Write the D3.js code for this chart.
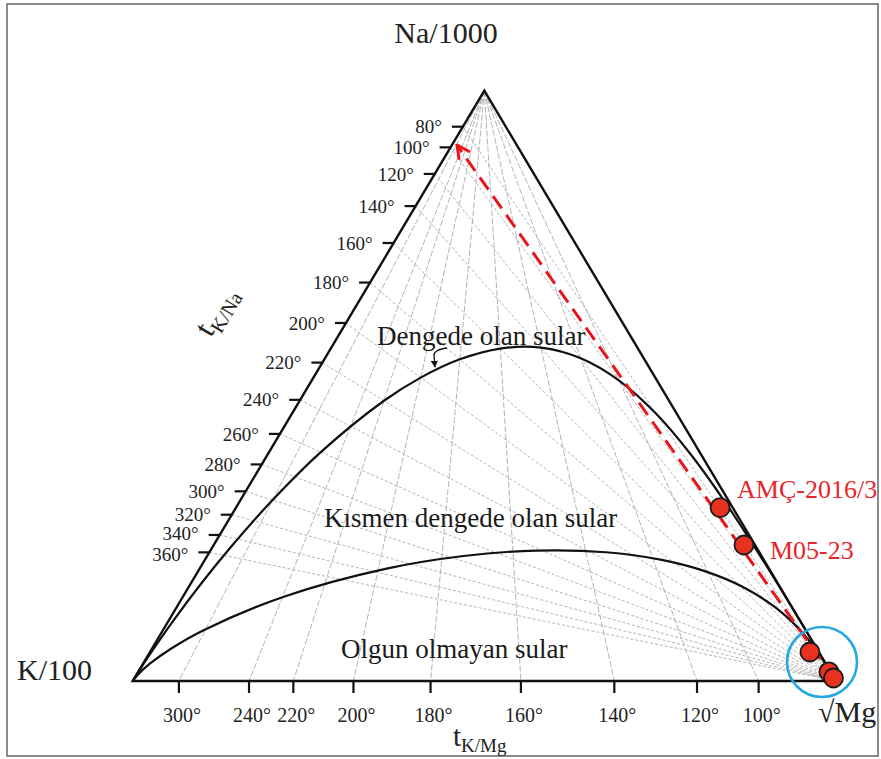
<!DOCTYPE html>
<html>
<head>
<meta charset="utf-8">
<script src="https://cdn.jsdelivr.net/npm/d3@7"></script>
<style>
  html, body { margin: 0; padding: 0; background: #fff; }
  svg { display: block; }
  text { font-family: "Liberation Serif", "Times New Roman", serif; }
</style>
</head>
<body>
<svg id="chart" width="881" height="759"></svg>
<script>
// ---------- DATA (ternary fractions: [Na/1000, K/100, sqrt(Mg)]) ----------
const leftTickLabels = [80, 100, 120, 140, 160, 180, 200, 220, 240, 260, 280, 300, 320, 340, 360];
const leftTickNa = [0.939, 0.904, 0.859, 0.8045, 0.742, 0.675, 0.6065, 0.5394, 0.4763, 0.4186, 0.3669, 0.3213, 0.2817, 0.2474, 0.2179];

const bottomTickLabels = [300, 240, 220, 200, 180, 160, 140, 120, 100];
const bottomTickMg = [0.0657, 0.1654, 0.2284, 0.3139, 0.4235, 0.552, 0.6848, 0.8024, 0.890];

// full equilibrium curve ("Dengede olan sular")
const fullEquilibrium = [
  [0, 1, 0],
  [0.0215, 0.9780, 0.0005], [0.0455, 0.9528, 0.0018], [0.0998, 0.8939, 0.0064],
  [0.1685, 0.8162, 0.0154], [0.2262, 0.7480, 0.0259], [0.3066, 0.6478, 0.0456],
  [0.3878, 0.5386, 0.0736], [0.4747, 0.4053, 0.1199], [0.5139, 0.3335, 0.1525],
  [0.5450, 0.2624, 0.1927], [0.5632, 0.1957, 0.2411], [0.5647, 0.1372, 0.2981],
  [0.5467, 0.0896, 0.3637], [0.5089, 0.0539, 0.4373], [0.4530, 0.0295, 0.5175],
  [0.3833, 0.0145, 0.6022], [0.3056, 0.0063, 0.6881], [0.2273, 0.0023, 0.7704],
  [0.1558, 0.0007, 0.8435], [0.0800, 0.0001, 0.9199], [0, 0, 1]
];

// immature water boundary
const immatureLine = [
  [0, 1, 0],
  [0.0099, 0.9884, 0.0017], [0.0289, 0.9616, 0.0095], [0.0551, 0.9177, 0.0273],
  [0.0857, 0.8570, 0.0573], [0.1428, 0.7138, 0.1435], [0.1904, 0.5439, 0.2658],
  [0.2118, 0.4236, 0.3646], [0.2209, 0.3156, 0.4635], [0.2181, 0.2181, 0.5639],
  [0.2055, 0.1468, 0.6477], [0.1857, 0.0928, 0.7215], [0.1597, 0.0532, 0.7871],
  [0.1273, 0.0255, 0.8473], [0.1010, 0.0126, 0.8864], [0.0819, 0.0068, 0.9113],
  [0.0622, 0.0031, 0.9347], [0.0424, 0.0011, 0.9566], [0.0252, 0.0003, 0.9745],
  [0, 0, 1]
];

// samples
const sampleNames = ["AMÇ-2016/3", "M05-23", "", "", ""];
const sampleNa = [0.2936, 0.2304, 0.0491, 0.0153, 0.0051];
const sampleK  = [0.0180, 0.0157, 0.0125, 0.0024, 0.0010];
const sampleMg = [0.6884, 0.7539, 0.9384, 0.9823, 0.9939];

// red dashed trend (start, end) and highlight circle centre
const trendStart = [0.0051, 0.0010, 0.9939];
const trendEnd = [0.908, 0.085, 0.007];
const highlightCentre = [0.0322, 0.0038, 0.9640];

const vertexLabels = ["Na/1000", "K/100", "√Mg"];
const regionLabels = ["Dengede olan sular", "Kısmen dengede olan sular", "Olgun olmayan sular"];

// ---------- LAYOUT ----------
const svg = d3.select("#chart");
const xS = d3.scaleLinear().domain([0, 1]).range([132.7, 836]);
const yS = d3.scaleLinear().domain([0, 1]).range([681, 90.7]);
function proj(p) {
  const s = p[0] + p[1] + p[2];
  const na = p[0] / s, mg = p[2] / s;
  return [xS(mg + na * 0.5), yS(na)];
}
const vNa = proj([1, 0, 0]), vK = proj([0, 1, 0]), vMg = proj([0, 0, 1]);

// frame
svg.append("rect").attr("x", 7).attr("y", 4).attr("width", 871).attr("height", 752)
  .attr("fill", "none").attr("stroke", "#6e6e6e").attr("stroke-width", 1.6);

const grid = svg.append("g").attr("fill", "none").attr("stroke", "#ababab").attr("stroke-width", 0.9);
// K/Mg isotherms: from Na apex to bottom ticks
bottomTickMg.forEach(m => {
  const p = proj([0, 1 - m, m]);
  grid.append("line").attr("x1", vNa[0]).attr("y1", vNa[1]).attr("x2", p[0]).attr("y2", p[1])
    .attr("stroke-dasharray", "6,2");
});
// K/Na isotherms: from left ticks to Mg vertex
leftTickNa.forEach(n => {
  const p = proj([n, 1 - n, 0]);
  grid.append("line").attr("x1", p[0]).attr("y1", p[1]).attr("x2", vMg[0]).attr("y2", vMg[1])
    .attr("stroke-dasharray", "3,2");
});

// curves
const line = d3.line().x(d => proj(d)[0]).y(d => proj(d)[1]).curve(d3.curveCatmullRom.alpha(0.5));
svg.append("path").datum(fullEquilibrium).attr("d", line)
  .attr("fill", "none").attr("stroke", "#111").attr("stroke-width", 2.2);
svg.append("path").datum(immatureLine).attr("d", line)
  .attr("fill", "none").attr("stroke", "#111").attr("stroke-width", 2.2);

// triangle
svg.append("path").attr("d", `M${vK[0]},${vK[1]}L${vNa[0]},${vNa[1]}L${vMg[0]},${vMg[1]}Z`)
  .attr("fill", "none").attr("stroke", "#111").attr("stroke-width", 2.4).attr("stroke-linejoin", "miter");

// left ticks
const leftNudge = { 340: -2, 360: 2 };
const lt = svg.append("g");
leftTickNa.forEach((n, i) => {
  const p = proj([n, 1 - n, 0]);
  lt.append("line").attr("x1", p[0] - 11).attr("y1", p[1]).attr("x2", p[0]).attr("y2", p[1])
    .attr("stroke", "#111").attr("stroke-width", 2.2);
  lt.append("text").attr("x", p[0] - 21).attr("y", p[1] + (leftNudge[leftTickLabels[i]] || 0)).attr("dy", "0.35em")
    .attr("text-anchor", "end").attr("font-size", 19).attr("fill", "#222")
    .text(leftTickLabels[i] + "°");
});
// bottom ticks
const bt = svg.append("g");
bottomTickMg.forEach((m, i) => {
  const p = proj([0, 1 - m, m]);
  bt.append("line").attr("x1", p[0]).attr("y1", p[1]).attr("x2", p[0]).attr("y2", p[1] + 12)
    .attr("stroke", "#111").attr("stroke-width", 2.2);
  bt.append("text").attr("x", p[0] + 3).attr("y", p[1] + 41)
    .attr("text-anchor", "middle").attr("font-size", 20).attr("fill", "#222")
    .text(bottomTickLabels[i] + "°");
});

// axis titles
const tNa = svg.append("text").attr("font-size", 31).attr("fill", "#222")
  .attr("transform", "translate(224,316) rotate(-59)").attr("text-anchor", "middle");
tNa.append("tspan").text("t");
tNa.append("tspan").attr("font-size", 20).attr("dy", 7).text("K/Na");
const tMg = svg.append("text").attr("font-size", 29).attr("fill", "#222").attr("x", 453).attr("y", 746);
tMg.append("tspan").text("t");
tMg.append("tspan").attr("font-size", 19).attr("dy", 6).text("K/Mg");

// vertex labels
svg.append("text").attr("x", 446).attr("y", 43).attr("text-anchor", "middle")
  .attr("font-size", 30).attr("fill", "#222").text(vertexLabels[0]);
svg.append("text").attr("x", 17).attr("y", 680).attr("font-size", 30).attr("fill", "#222").text(vertexLabels[1]);
svg.append("text").attr("x", 818).attr("y", 722).attr("font-size", 30).attr("fill", "#222").text(vertexLabels[2]);

// region labels
const regionPos = [[377, 345], [324, 527], [341, 658]];
regionLabels.forEach((t, i) => {
  svg.append("text").attr("x", regionPos[i][0]).attr("y", regionPos[i][1])
    .attr("font-size", 27).attr("fill", "#1a1a1a").text(t);
});

// small arrow from label to curve
const defs = svg.append("defs");
defs.append("marker").attr("id", "blackHead").attr("viewBox", "0 0 10 10")
  .attr("refX", 9).attr("refY", 5).attr("markerWidth", 7).attr("markerHeight", 7)
  .attr("markerUnits", "userSpaceOnUse").attr("orient", "auto")
  .append("path").attr("d", "M0,0L10,5L0,10Z").attr("fill", "#111");
svg.append("path").attr("d", "M447,348 Q433,350 434,356 L435,367")
  .attr("fill", "none").attr("stroke", "#111").attr("stroke-width", 1.3)
  .attr("marker-end", "url(#blackHead)");

// red dashed trend with open arrowhead
defs.append("marker").attr("id", "redHead").attr("viewBox", "0 0 12 12")
  .attr("refX", 11).attr("refY", 6).attr("markerWidth", 16).attr("markerHeight", 16)
  .attr("markerUnits", "userSpaceOnUse").attr("orient", "auto")
  .append("path").attr("d", "M1,1L11,6L1,11").attr("fill", "none")
  .attr("stroke", "#e8161c").attr("stroke-width", 2.2);
const ts = proj(trendStart), te = proj(trendEnd);
svg.append("line").attr("x1", ts[0]).attr("y1", ts[1]).attr("x2", te[0]).attr("y2", te[1])
  .attr("stroke", "#e8161c").attr("stroke-width", 3).attr("stroke-dasharray", "15,8")
  .attr("marker-end", "url(#redHead)");

// samples
const sampleLayout = [[17, -10], [26, 14]];
sampleNa.forEach((n, i) => {
  const p = proj([n, sampleK[i], sampleMg[i]]);
  svg.append("circle").attr("cx", p[0]).attr("cy", p[1]).attr("r", 9.5)
    .attr("fill", "#e8321f").attr("stroke", "#1a1a1a").attr("stroke-width", 1.8);
  if (sampleNames[i]) {
    svg.append("text").attr("x", p[0] + sampleLayout[i][0]).attr("y", p[1] + sampleLayout[i][1])
      .attr("font-size", 26).attr("fill", "#e8252a").text(sampleNames[i]);
  }
});

// highlight circle
const hc = proj(highlightCentre);
svg.append("circle").attr("cx", hc[0]).attr("cy", hc[1]).attr("r", 35)
  .attr("fill", "none").attr("stroke", "#27a8e0").attr("stroke-width", 2.6);
</script>
</body>
</html>
